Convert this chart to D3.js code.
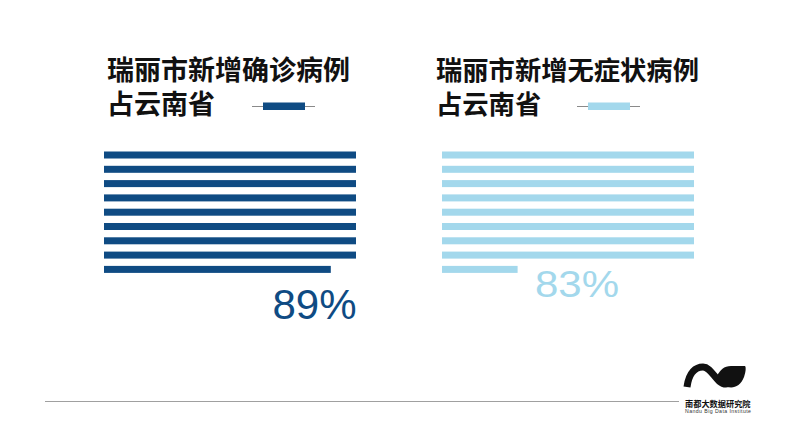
<!DOCTYPE html>
<html>
<head>
<meta charset="utf-8">
<script src="https://cdn.jsdelivr.net/npm/d3@7/dist/d3.min.js"></script>
<style>
html,body{margin:0;padding:0;background:#fff;}
svg{display:block;}
</style>
</head>
<body>
<svg id="chart" width="800" height="443"></svg>
<script>
// ---- data ----
const titleLine1 = ["瑞丽市新增确诊病例", "瑞丽市新增无症状病例"];
const titleLine2 = ["占云南省", "占云南省"];
const shares = [89, 83];               // percent
const shareLabels = ["89%", "83%"];
const stripeUnit = 10;                 // each stripe = 10%
const stripeCount = 9;

// ---- styles ----
const colors = ["#0f4b83", "#a3d8ec"];
const panelX = [104, 442];
const titleOff = [3, -6];
const titleSize = [27, 26.3];
const markerOff = [148, 135];
const stripeWidth = 252;

const svg = d3.select("#chart");

const x = d3.scaleLinear().domain([0, stripeUnit]).range([0, stripeWidth]);
const y = d3.scaleBand().domain(d3.range(stripeCount)).range([151.5, 272.9]).paddingInner(0.51).paddingOuter(0);

const panels = svg.selectAll("g.panel").data(shares).join("g")
  .attr("class", "panel")
  .attr("transform", (d, i) => `translate(${panelX[i]},0)`);

// titles
const title = panels.append("text")
  .attr("font-family", "'Noto Sans CJK SC', sans-serif")
  .attr("font-weight", 600)
  .attr("font-size", (d, i) => titleSize[i])
  .attr("fill", "#111");
title.append("tspan")
  .attr("x", (d, i) => titleOff[i]).attr("y", 80)
  .text((d, i) => titleLine1[i]);
title.append("tspan")
  .attr("x", (d, i) => titleOff[i]).attr("y", 114)
  .text((d, i) => titleLine2[i]);

// legend marker
panels.append("line")
  .attr("x1", (d, i) => markerOff[i]).attr("x2", (d, i) => markerOff[i] + 63)
  .attr("y1", 106.5).attr("y2", 106.5)
  .attr("stroke", "#8a8a8a").attr("stroke-width", 1);
panels.append("rect")
  .attr("x", (d, i) => markerOff[i] + 11).attr("y", 102.5)
  .attr("width", 42).attr("height", 7.5)
  .attr("fill", (d, i) => colors[i]);

// stripes
panels.each(function (v, i) {
  const g = d3.select(this);
  const stripes = d3.range(stripeCount)
    .map(k => ({ k, val: Math.max(0, Math.min(stripeUnit, v - k * stripeUnit)) }))
    .filter(s => s.val > 0);
  g.selectAll("rect.stripe").data(stripes).join("rect")
    .attr("class", "stripe")
    .attr("x", x(0))
    .attr("y", s => y(s.k))
    .attr("width", s => x(s.val) - x(0))
    .attr("height", y.bandwidth())
    .attr("fill", colors[i]);
});

// percentage labels (the second one slightly squashed vertically as in the source)
const labelPos = [{ x: 168.5, y: 319, sy: 1 }, { x: 93, y: 297, sy: 0.87 }];
panels.append("g")
  .attr("transform", (d, i) => `translate(${labelPos[i].x},${labelPos[i].y}) scale(1,${labelPos[i].sy})`)
  .append("text")
  .attr("font-family", "'Liberation Sans', Arial, sans-serif")
  .attr("font-weight", 400)
  .attr("font-size", 42)
  .attr("fill", (d, i) => colors[i])
  .text((d, i) => shareLabels[i]);

// bottom rule
svg.append("line")
  .attr("x1", 45).attr("x2", 679).attr("y1", 401.5).attr("y2", 401.5)
  .attr("stroke", "#a0a0a0").attr("stroke-width", 1.2);

// logo
const logo = svg.append("g");
logo.append("path")
  .attr("d", "M687,387 C689,372 696,367 703,367 C712,367 716,384 726,384 C733,384 738,378 741,369")
  .attr("fill", "none").attr("stroke", "#111").attr("stroke-width", 7).attr("stroke-linecap", "butt");
logo.append("path")
  .attr("d", "M717,376 C721,389 738,393 744,377 C746,371 746,367 745,366 L731,366 C724,366 720,370 717,376 Z")
  .attr("fill", "#111");
logo.append("text")
  .attr("x", 685).attr("y", 406.5)
  .attr("font-family", "'Noto Sans CJK SC', sans-serif")
  .attr("font-weight", 700).attr("font-size", 8.2)
  .attr("fill", "#111").text("南都大数据研究院");
logo.append("text")
  .attr("x", 685).attr("y", 413)
  .attr("font-family", "'Liberation Sans', sans-serif")
  .attr("font-size", 5.2).attr("textLength", 66)
  .attr("fill", "#333").text("Nandu Big Data Institute");
</script>
</body>
</html>
